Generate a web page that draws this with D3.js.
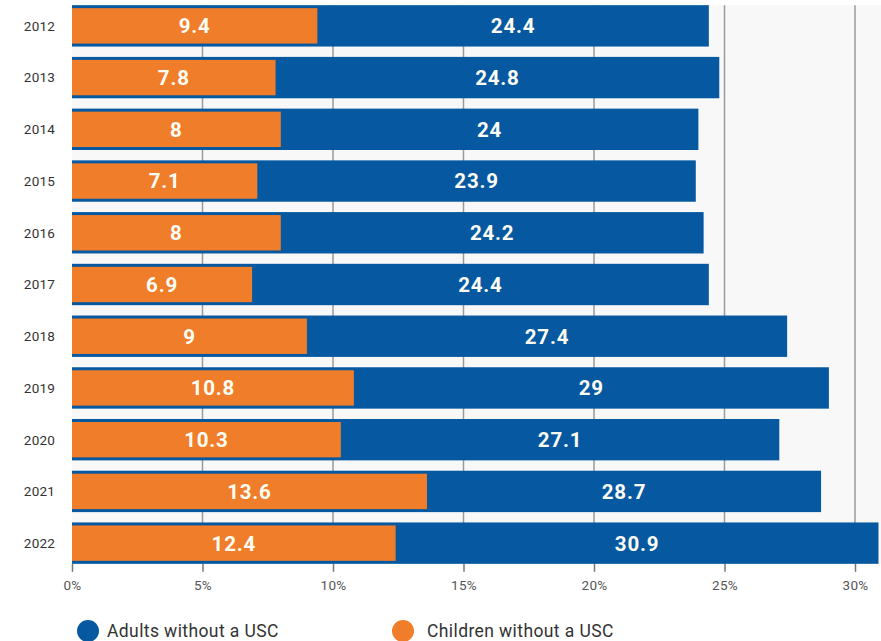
<!DOCTYPE html>
<html>
<head>
<meta charset="utf-8">
<script src="https://cdn.jsdelivr.net/npm/d3@7"></script>
<style>
  html, body { margin: 0; padding: 0; background: #ffffff; }
  svg { display: block; }
</style>
</head>
<body>
<svg id="chart" width="881" height="641"></svg>
<script>
const years = ["2012","2013","2014","2015","2016","2017","2018","2019","2020","2021","2022"];
const adults = [24.4, 24.8, 24, 23.9, 24.2, 24.4, 27.4, 29, 27.1, 28.7, 30.9];
const children = [9.4, 7.8, 8, 7.1, 8, 6.9, 9, 10.8, 10.3, 13.6, 12.4];
const tickValues = [0, 5, 10, 15, 20, 25, 30];
const seriesNames = ["Adults without a USC", "Children without a USC"];

const colors = { adults: "#0659a0", children: "#f07d2a" };

const svg = d3.select("#chart");
const x = d3.scaleLinear().domain([0, 30]).range([72, 855]);
const y = d3.scaleBand().domain(years).range([0, 569]).paddingInner(0.2).paddingOuter(0.1);

const plotTop = y(years[0]);
const plotBottom = y(years[years.length - 1]) + y.bandwidth();

// plot background
svg.append("rect")
  .attr("x", x(0)).attr("y", plotTop)
  .attr("width", 881 - x(0)).attr("height", plotBottom - plotTop)
  .attr("fill", "#f8f8f8");

// gridlines
svg.append("g").selectAll("line").data(tickValues.slice(1)).join("line")
  .attr("x1", d => x(d)).attr("x2", d => x(d))
  .attr("y1", plotTop).attr("y2", plotBottom)
  .attr("stroke", "#9a9a9a").attr("stroke-width", 1.5);

// axis
const axis = d3.axisBottom(x).tickValues(tickValues).tickFormat(d => d + "%").tickSize(8).tickPadding(9);
const gAxis = svg.append("g").attr("transform", `translate(0,${plotBottom})`).call(axis);
gAxis.select(".domain").remove();
gAxis.selectAll(".tick line").attr("stroke", "#777").attr("stroke-width", 1.5);
gAxis.selectAll(".tick text")
  .attr("fill", "#555").attr("font-family", "Roboto, sans-serif").attr("font-size", 13.5)
  .attr("letter-spacing", 0.3);

const rows = years.map((yr, i) => ({ year: yr, adult: adults[i], child: children[i] }));

// adult bars
svg.append("g").selectAll("rect").data(rows).join("rect")
  .attr("x", x(0)).attr("y", d => y(d.year))
  .attr("width", d => x(d.adult) - x(0)).attr("height", y.bandwidth())
  .attr("fill", colors.adults);

// child bars (inset)
const inset = 3;
svg.append("g").selectAll("rect").data(rows).join("rect")
  .attr("x", x(0)).attr("y", d => y(d.year) + inset)
  .attr("width", d => x(d.child) - x(0)).attr("height", y.bandwidth() - 2 * inset)
  .attr("fill", colors.children);

const labelFont = "Roboto, sans-serif";
// child labels
svg.append("g").selectAll("text").data(rows).join("text")
  .attr("x", d => (x(0) + x(d.child)) / 2)
  .attr("y", d => y(d.year) + y.bandwidth() / 2)
  .attr("dy", "0.36em")
  .attr("text-anchor", "middle")
  .attr("fill", "#fdfdf5").attr("font-family", labelFont).attr("font-weight", 700)
  .attr("font-size", 20.5).attr("letter-spacing", 0.8)
  .text(d => d.child);

// adult labels
svg.append("g").selectAll("text").data(rows).join("text")
  .attr("x", d => (x(d.child) + x(d.adult)) / 2)
  .attr("y", d => y(d.year) + y.bandwidth() / 2)
  .attr("dy", "0.36em")
  .attr("text-anchor", "middle")
  .attr("fill", "#fdfdf5").attr("font-family", labelFont).attr("font-weight", 700)
  .attr("font-size", 20.5).attr("letter-spacing", 0.8)
  .text(d => d.adult);

// year labels
svg.append("g").selectAll("text").data(years).join("text")
  .attr("x", 55)
  .attr("y", d => y(d) + y.bandwidth() / 2)
  .attr("dy", "0.36em")
  .attr("text-anchor", "end")
  .attr("fill", "#333").attr("font-family", labelFont).attr("font-weight", 400)
  .attr("font-size", 13.5).attr("letter-spacing", 0.2)
  .text(d => d);

// legend
const legendItems = [
  { name: seriesNames[0], color: colors.adults, cx: 88, tx: 107 },
  { name: seriesNames[1], color: colors.children, cx: 403, tx: 427 }
];
const lg = svg.append("g");
lg.selectAll("circle").data(legendItems).join("circle")
  .attr("cx", d => d.cx).attr("cy", 631).attr("r", 11)
  .attr("fill", d => d.color);
lg.selectAll("text").data(legendItems).join("text")
  .attr("x", d => d.tx).attr("y", 631).attr("dy", "0.36em")
  .attr("fill", "#333").attr("font-family", labelFont).attr("font-size", 17.5)
  .attr("letter-spacing", 0.4)
  .text(d => d.name);
</script>
</body>
</html>
